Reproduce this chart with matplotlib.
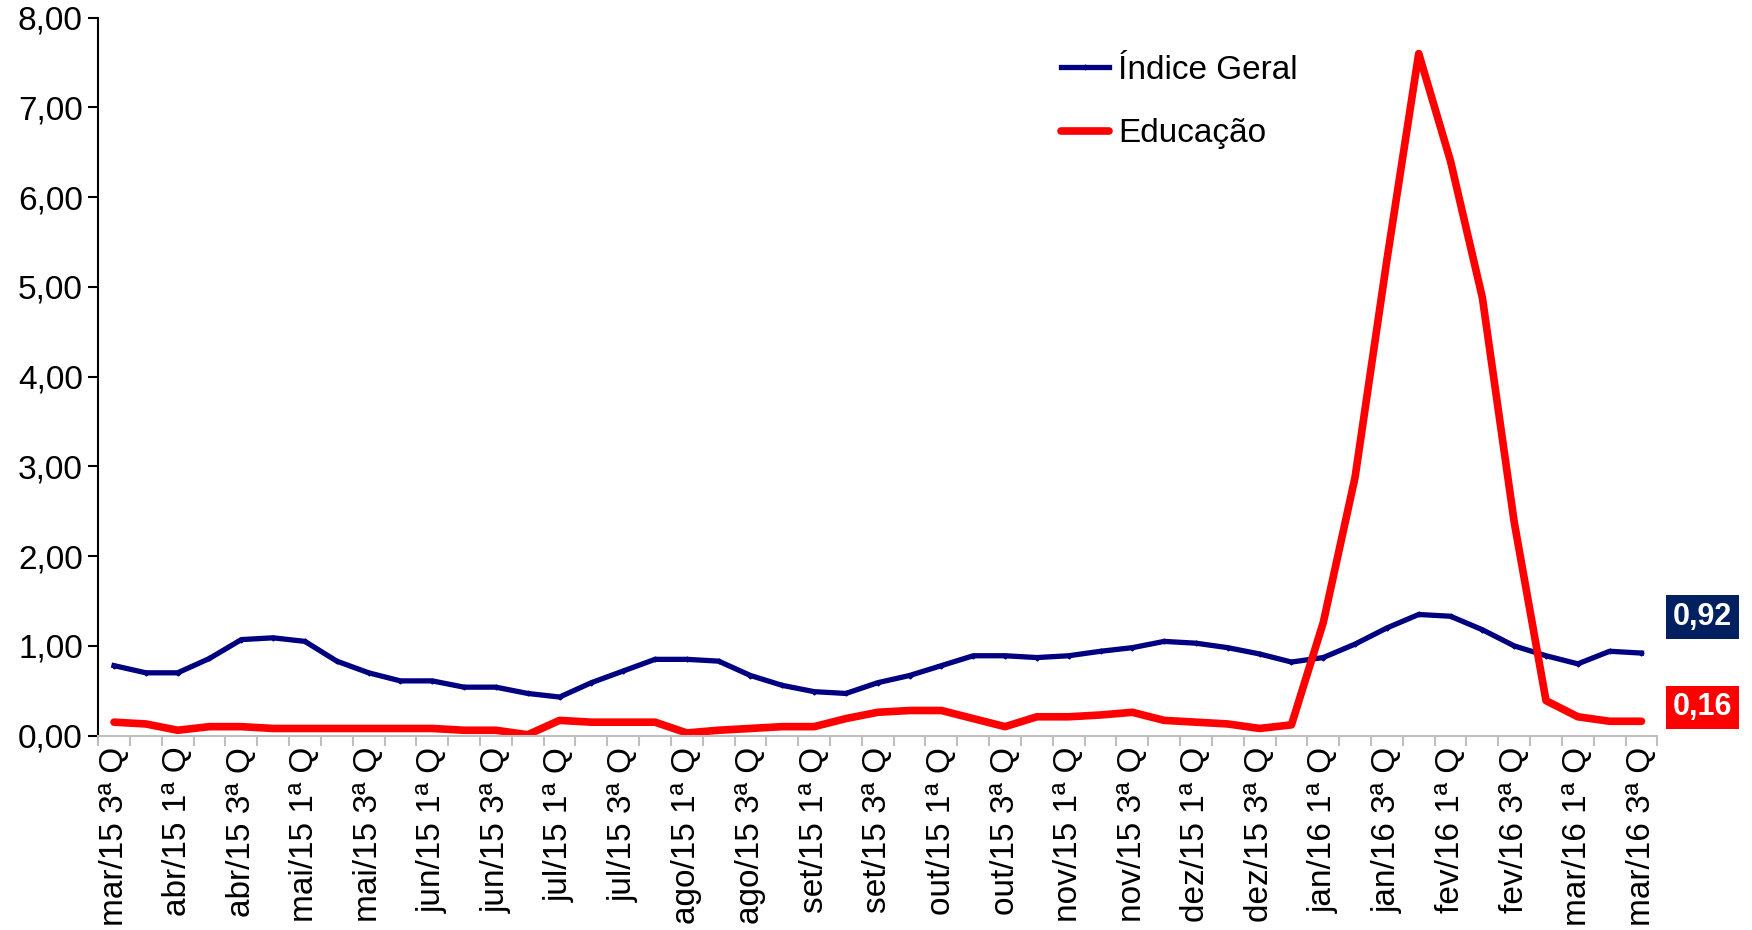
import matplotlib
matplotlib.use("Agg")
import matplotlib.pyplot as plt

plt.rcParams['font.family'] = ['Liberation Sans', 'DejaVu Sans']

# quadrissemanas (rótulo só em 1ª e 3ª Q)
meses = ["mar/15", "abr/15", "mai/15", "jun/15", "jul/15", "ago/15", "set/15",
         "out/15", "nov/15", "dez/15", "jan/16", "fev/16", "mar/16"]
categorias = []
for m in meses:
    for q in ["1ª", "2ª", "3ª", "4ª"]:
        categorias.append(f"{m} {q} Q")
categorias = categorias[2:-1]  # mar/15 3ª Q ... mar/16 3ª Q

indice_geral = [0.78, 0.70, 0.70, 0.86, 1.07, 1.09, 1.05, 0.83, 0.70, 0.61,
                0.61, 0.54, 0.54, 0.47, 0.43, 0.59, 0.72, 0.85, 0.85, 0.83,
                0.67, 0.56, 0.49, 0.47, 0.59, 0.67, 0.78, 0.89, 0.89, 0.87,
                0.89, 0.94, 0.98, 1.05, 1.03, 0.98, 0.91, 0.82, 0.87, 1.02,
                1.20, 1.35, 1.33, 1.18, 1.00, 0.89, 0.80, 0.94, 0.92]

educacao = [0.15, 0.13, 0.06, 0.10, 0.10, 0.08, 0.08, 0.08, 0.08, 0.08,
            0.08, 0.06, 0.06, 0.01, 0.17, 0.15, 0.15, 0.15, 0.03, 0.06,
            0.08, 0.10, 0.10, 0.19, 0.26, 0.28, 0.28, 0.19, 0.10, 0.21,
            0.21, 0.23, 0.26, 0.17, 0.15, 0.13, 0.08, 0.12, 1.26, 2.88,
            5.30, 7.60, 6.40, 4.88, 2.38, 0.39, 0.21, 0.16, 0.16]

x = list(range(len(categorias)))

fig = plt.figure(figsize=(17.52, 9.30), dpi=100)
ax = fig.add_axes([0.056, 0.209, 0.890, 0.772])

ax.plot(x, indice_geral, color='#000080', lw=3.8, marker='D', markersize=2.5,
        label='Índice Geral', solid_joinstyle='round')
ax.plot(x, educacao, color='#FF0000', lw=5.5, label='Educação',
        solid_joinstyle='round', solid_capstyle='round')

ax.set_xlim(-0.5, len(x) - 0.5)
ax.set_ylim(0, 8)
ax.set_yticks(range(0, 9))
ax.set_yticklabels([f"{v},00" for v in range(0, 9)], fontsize=24)

# ticks entre categorias, rótulos a cada duas
ax.set_xticks([i - 0.5 for i in range(len(x) + 1)])
ax.set_xticklabels([])
ax.set_xticks(x[::2], minor=True)
ax.set_xticklabels(categorias[::2], minor=True, rotation=90, fontsize=24)
ax.tick_params(axis='x', which='major', length=7, color='#BFBFBF', width=1.5)
ax.tick_params(axis='x', which='minor', length=0, pad=8)
ax.tick_params(axis='y', length=7, width=1.5, pad=4)

for s in ['top', 'right']:
    ax.spines[s].set_visible(False)
ax.spines['bottom'].set_color('#BFBFBF')
ax.spines['bottom'].set_linewidth(1.5)
ax.spines['left'].set_linewidth(1.5)

leg = ax.legend(loc='upper left', bbox_to_anchor=(0.598, 0.99), frameon=False,
                fontsize=24, handlelength=1.45, handletextpad=0.27, labelspacing=0.97)

# rótulos do último valor
ax.annotate("0,92", xy=(x[-1], indice_geral[-1]), xytext=(61, 36),
            textcoords='offset pixels', ha='center', va='center',
            color='white', fontsize=22, fontweight='bold', annotation_clip=False,
            bbox=dict(boxstyle='square,pad=0.22', fc='#002060', ec='none'))
ax.annotate("0,16", xy=(x[-1], educacao[-1]), xytext=(61, 14),
            textcoords='offset pixels', ha='center', va='center',
            color='white', fontsize=22, fontweight='bold', annotation_clip=False,
            bbox=dict(boxstyle='square,pad=0.22', fc='#FF0000', ec='none'))

fig.savefig("out.png", dpi=100)
